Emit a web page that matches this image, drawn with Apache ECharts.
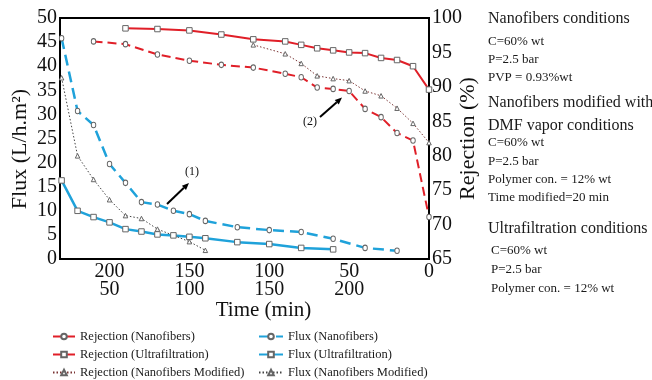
<!DOCTYPE html>
<html>
<head>
<meta charset="utf-8">
<script src="https://cdn.jsdelivr.net/npm/echarts@6/dist/echarts.min.js"></script>
<style>html,body{margin:0;padding:0;background:#fff;}#c{width:652px;height:380px;}</style>
</head>
<body>
<div id="c"></div>
<script>
// Rejection series: time on the upper (reversed) time row
const rejNF_time  = [210,190,170,150,130,110,90,80,70,60,50,40,30,20,10,0];
const rejNF       = [96.6,96.2,94.7,93.8,93.2,92.8,91.9,91.4,89.9,89.7,89.4,86.8,85.6,83.3,82.2,71.1];
const rejUF_time  = [190,170,150,130,110,90,80,70,60,50,40,30,20,10,0];
const rejUF       = [98.5,98.4,98.2,97.6,96.9,96.6,96.1,95.6,95.3,95.0,94.9,94.2,93.9,93.0,89.6];
const rejNFM_time = [110,90,80,70,60,50,40,30,20,10,0];
const rejNFM      = [96.1,94.8,93.4,91.6,91.2,90.9,89.4,88.7,86.9,84.7,81.9];
// Flux series: time on the lower time row
const fluxNF_time  = [20,30,40,50,60,70,80,90,100,110,130,150,170,190,210,230];
const fluxNF       = [45.8,30.7,27.8,19.7,15.8,11.8,11.3,10.0,9.3,7.9,6.6,6.0,5.6,4.2,2.3,1.7];
const fluxUF_time  = [20,30,40,50,60,70,80,90,100,110,130,150,170,190];
const fluxUF       = [16.3,10.0,8.7,7.6,6.2,5.7,5.1,4.9,4.6,4.3,3.5,3.1,2.3,2.0];
const fluxNFM_time = [20,30,40,50,60,70,80,100,110];
const fluxNFM      = [37.6,21.4,16.5,12.3,9.0,8.4,6.2,3.6,1.8];
// tick labels
const topTicks = [0,50,100,150,200];
const bottomTicks = [50,100,150,200];
const fluxTicks = [0,50];
const rejTicks = [65,100];
const notes = [
  ['Nanofibers conditions', 20, 16],
  ['C=60% wt', 42, 13],
  ['P=2.5 bar', 60, 13],
  ['PVP = 0.93%wt', 78, 13],
  ['Nanofibers modified with', 104, 16],
  ['DMF vapor conditions', 127, 16],
  ['C=60% wt', 143, 13],
  ['P=2.5 bar', 162, 13],
  ['Polymer con. = 12% wt', 180, 13],
  ['Time modified=20 min', 198, 13],
  ['Ultrafiltration conditions', 230, 16],
  ['C=60% wt', 251, 13, 3],
  ['P=2.5 bar', 270, 13, 3],
  ['Polymer con. = 12% wt', 289, 13, 3]
];

const FONT = '"Liberation Serif", "Times New Roman", serif';
const RED = '#e01f28', BLUE = '#1fa2da', DOTR = '#7a3434', DOTG = '#444444';
const zip = (a, b) => a.map((v, i) => [v, b[i]]);
const mk = {color: '#fff', borderColor: '#666', borderWidth: 1};

const chart = echarts.init(document.getElementById('c'), null, {renderer: 'canvas'});

const graphics = notes.map(n => ({
  type: 'text', left: 488 + (n[3] || 0), top: n[1] - n[2] * 0.55,
  style: {text: n[0], font: n[2] + 'px ' + FONT, fill: '#1a1a1a'}
}));
function arrow(x1, y1, x2, y2) {
  const dx = x2 - x1, dy = y2 - y1, L = Math.hypot(dx, dy);
  const ux = dx / L, uy = dy / L, bx = x2 - 7 * ux, by = y2 - 7 * uy;
  return [
    {type: 'line', shape: {x1, y1, x2: bx, y2: by}, style: {stroke: '#000', lineWidth: 2}},
    {type: 'polygon', shape: {points: [[x2, y2], [bx + 3 * uy, by - 3 * ux], [bx - 3 * uy, by + 3 * ux]]}, style: {fill: '#000'}}
  ];
}
graphics.push(...arrow(167, 204, 189, 183));
graphics.push(...arrow(320, 117, 342, 97.5));
graphics.push({type: 'text', left: 185, top: 166, style: {text: '(1)', font: '12px ' + FONT, fill: '#111'}});
graphics.push({type: 'text', left: 303, top: 116, style: {text: '(2)', font: '12px ' + FONT, fill: '#111'}});

const legendText = {fontFamily: FONT, fontSize: 12.5, color: '#1a1a1a'};

chart.setOption({
  animation: false,
  backgroundColor: '#fff',
  grid: {left: 60, right: 223, top: 18, bottom: 121, containLabel: false, outerBoundsMode: 'none',
         show: true, borderColor: '#000', borderWidth: 2},
  legend: [
    {data: ['Rejection (Nanofibers)', 'Rejection (Ultrafiltration)', 'Rejection (Nanofibers Modified)'],
     orient: 'vertical', left: 52, top: 330, itemGap: 5, itemWidth: 22, itemHeight: 7, padding: 0, textStyle: legendText},
    {data: ['Flux (Nanofibers)', 'Flux (Ultrafiltration)', 'Flux (Nanofibers Modified)'],
     orient: 'vertical', left: 258, top: 330, itemGap: 5, itemWidth: 24, itemHeight: 7, padding: 0, textStyle: legendText}
  ],
  xAxis: [
    {type: 'value', position: 'bottom', inverse: true, min: 0, max: 231,
     axisLine: {show: true, onZero: false, lineStyle: {color: '#000', width: 2}},
     axisTick: {show: false}, splitLine: {show: false},
     axisLabel: {customValues: topTicks, margin: 3, fontFamily: FONT, fontSize: 20, color: '#111'}},
    {type: 'value', position: 'bottom', offset: 18, min: 19, max: 250,
     name: 'Time (min)', nameLocation: 'middle', nameGap: 23, nameMoveOverlap: false,
     nameTextStyle: {fontFamily: FONT, fontSize: 21, color: '#111', padding: [0, 0, 0, 38]},
     axisLine: {show: false}, axisTick: {show: false}, splitLine: {show: false},
     axisLabel: {customValues: bottomTicks, margin: 3, fontFamily: FONT, fontSize: 20, color: '#111'}}
  ],
  yAxis: [
    {type: 'value', position: 'left', min: fluxTicks[0], max: fluxTicks[1], interval: 5,
     name: 'Flux (L/h.m²)', nameLocation: 'middle', nameGap: 29, nameRotate: 90, nameMoveOverlap: false,
     nameTextStyle: {fontFamily: FONT, fontSize: 22, color: '#111', padding: [0, 21, 0, 0]},
     axisLine: {show: true, lineStyle: {color: '#000', width: 2}},
     axisTick: {show: false}, splitLine: {show: false},
     axisLabel: {margin: 3, fontFamily: FONT, fontSize: 20, color: '#111'}},
    {type: 'value', position: 'right', min: rejTicks[0], max: rejTicks[1], interval: 5,
     name: 'Rejection (%)', nameLocation: 'middle', nameGap: 28, nameRotate: 90, nameMoveOverlap: false,
     nameTextStyle: {fontFamily: FONT, fontSize: 22, color: '#111'},
     axisLine: {show: true, lineStyle: {color: '#000', width: 2}},
     axisTick: {show: false}, splitLine: {show: false},
     axisLabel: {margin: 3, fontFamily: FONT, fontSize: 20, color: '#111'}}
  ],
  series: [
    {name: 'Rejection (Nanofibers)', type: 'line', xAxisIndex: 0, yAxisIndex: 1, data: zip(rejNF_time, rejNF),
     symbol: 'circle', symbolSize: [4.5, 5.5], color: RED, itemStyle: mk,
     lineStyle: {color: RED, width: 2, type: [9, 5]}},
    {name: 'Rejection (Ultrafiltration)', type: 'line', xAxisIndex: 0, yAxisIndex: 1, data: zip(rejUF_time, rejUF),
     symbol: 'rect', symbolSize: 5.5, color: RED, itemStyle: mk,
     lineStyle: {color: RED, width: 2}},
    {name: 'Rejection (Nanofibers Modified)', type: 'line', xAxisIndex: 0, yAxisIndex: 1, data: zip(rejNFM_time, rejNFM),
     symbol: 'triangle', symbolSize: 4.5, color: DOTR, itemStyle: mk,
     lineStyle: {color: DOTR, width: 1, type: [1.5, 2]}},
    {name: 'Flux (Nanofibers)', type: 'line', xAxisIndex: 1, yAxisIndex: 0, data: zip(fluxNF_time, fluxNF),
     symbol: 'circle', symbolSize: [4.5, 5.5], color: BLUE, itemStyle: mk,
     lineStyle: {color: BLUE, width: 2.5, type: [11, 6]}},
    {name: 'Flux (Ultrafiltration)', type: 'line', xAxisIndex: 1, yAxisIndex: 0, data: zip(fluxUF_time, fluxUF),
     symbol: 'rect', symbolSize: 5.5, color: BLUE, itemStyle: mk,
     lineStyle: {color: BLUE, width: 2.5}},
    {name: 'Flux (Nanofibers Modified)', type: 'line', xAxisIndex: 1, yAxisIndex: 0, data: zip(fluxNFM_time, fluxNFM),
     symbol: 'triangle', symbolSize: 4.5, color: DOTG, itemStyle: mk,
     lineStyle: {color: DOTG, width: 1, type: [1.5, 2]}}
  ],
  graphic: graphics
});
</script>
</body>
</html>
